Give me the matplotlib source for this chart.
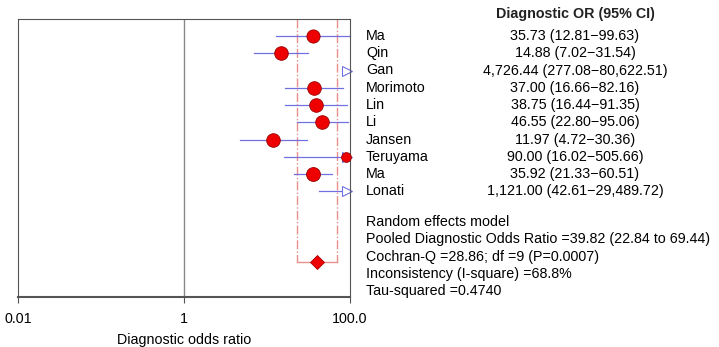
import matplotlib.pyplot as plt
import numpy as np

plt.rcParams['font.family'] = ['Liberation Sans', 'DejaVu Sans']

studies = ["Ma", "Qin", "Gan", "Morimoto", "Lin", "Li", "Jansen", "Teruyama", "Ma", "Lonati"]
dor = [35.73, 14.88, 4726.44, 37.00, 38.75, 46.55, 11.97, 90.00, 35.92, 1121.00]
ci_low = [12.81, 7.02, 277.08, 16.66, 16.44, 22.80, 4.72, 16.02, 21.33, 42.61]
ci_high = [99.63, 31.54, 80622.51, 82.16, 91.35, 95.06, 30.36, 505.66, 60.51, 29489.72]
weights = [9.5, 9.8, 0, 9.8, 9.8, 9.8, 9.8, 7.0, 10.0, 0]  # marker size ~ study weight

pooled = 39.82
pooled_low = 22.84
pooled_high = 69.44
summary_lines = [
    "Random effects model",
    "Pooled Diagnostic Odds Ratio =39.82 (22.84 to 69.44)",
    "Cochran-Q =28.86; df =9 (P=0.0007)",
    "Inconsistency (I-square) =68.8%",
    "Tau-squared =0.4740",
]

xmin, xmax = 0.01, 100.0
fs = 10.3

fig = plt.figure(figsize=(7.19, 3.47), dpi=100)
ax = fig.add_axes([0.025, 0.1441, 0.4618, 0.8011])
ax.set_xscale('log')
ax.set_xlim(xmin, xmax)
ax.set_ylim(15.13, -0.986)

ax.axvline(1, color='#888888', lw=1)

pooled_y = 13.1
ax.plot([pooled_low, pooled_low], [-0.986, pooled_y], color='#e8908a', lw=1, ls='-.')
ax.plot([pooled_high, pooled_high], [-0.986, pooled_y], color='#e8908a', lw=1, ls='-.')
ax.plot([pooled_low, pooled_high], [pooled_y, pooled_y], color='#e8908a', lw=1)
ax.plot(pooled, pooled_y, marker='D', ms=7, color='#ee0000', mec='#aa0000', mew=0.6)

arrow_x = xmax / 10 ** 0.04
for i in range(len(studies)):
    lo = max(ci_low[i], xmin)
    hi = min(ci_high[i], xmax)
    if lo < xmax:
        ax.plot([lo, hi], [i, i], color='#7070e0', lw=0.9, clip_on=False)
    if ci_high[i] > xmax:
        ax.plot(arrow_x, i, marker='>', ms=6.5, color='#7070e0', mfc='white',
                mew=0.8, clip_on=False)
    if dor[i] <= xmax:
        ax.plot(dor[i], i, marker='o', ms=weights[i], color='#ee0000',
                mec='#990000', mew=0.6, clip_on=False, zorder=5)

for s in ['top', 'left', 'right', 'bottom']:
    ax.spines[s].set_color('#555555')
ax.spines['bottom'].set_linewidth(1.5)
ax.set_yticks([])
ax.set_xticks([0.01, 1, 100])
ax.set_xticklabels(["0.01", "1", "100.0"], fontsize=fs)
ax.xaxis.set_minor_locator(plt.NullLocator())
ax.tick_params(axis='x', length=4, color='#555555', pad=7)
ax.set_xlabel("Diagnostic odds ratio", fontsize=fs, labelpad=5)

# right-hand text table
col_x = 575 / 719
fig.text(col_x, 1 - 14 / 347, "Diagnostic OR (95% CI)", ha='center', va='center',
         fontsize=fs, fontweight='bold', color='#222222')
for i in range(len(studies)):
    y = 1 - (36 + 17.25 * i) / 347
    fig.text(366 / 719, y, studies[i], ha='left', va='center', fontsize=fs)
    val = f"{dor[i]:,.2f} ({ci_low[i]:,.2f}\u2212{ci_high[i]:,.2f})"
    fig.text(col_x, y, val, ha='center', va='center', fontsize=fs)

for k, line in enumerate(summary_lines):
    y = 1 - (222 + 17.25 * k) / 347
    fig.text(366 / 719, y, line, ha='left', va='center', fontsize=fs)

fig.savefig("out.png", dpi=100)
